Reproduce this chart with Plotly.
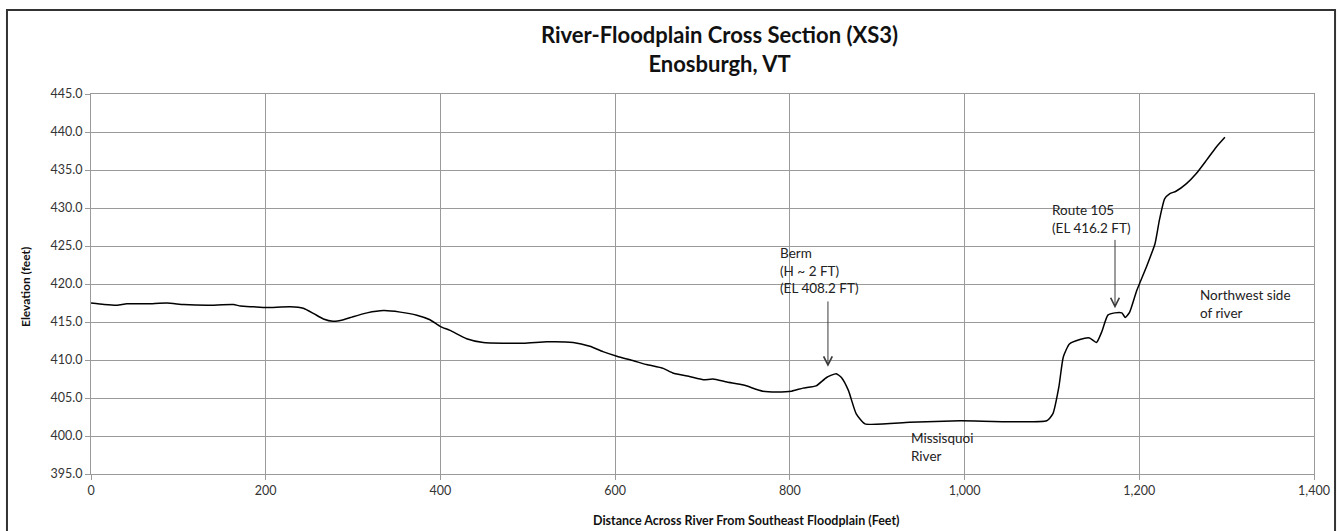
import plotly.graph_objects as go

# Surveyed ground profile across the Missisquoi River floodplain (XS3)
distance_ft = [0, 15, 30, 41, 65, 87, 106, 133, 163, 171, 186, 201, 228, 243, 255,
               266, 277, 289, 300, 316, 335, 354, 373, 388, 400, 411, 430, 449, 495,
               522, 552, 571, 586, 602, 621, 636, 655, 666, 686, 701, 712, 728, 747,
               769, 785, 802, 815, 830, 842, 853, 859, 867, 876, 886, 937, 995, 1094,
               1101, 1108, 1113, 1120, 1132, 1143, 1151, 1157, 1164, 1172, 1180, 1184,
               1189, 1197, 1208, 1218, 1223, 1229, 1235, 1242, 1254, 1265, 1277, 1288,
               1298]
elevation_ft = [417.5, 417.3, 417.2, 417.4, 417.4, 417.5, 417.3, 417.2, 417.3, 417.1,
                417.0, 416.9, 417.0, 416.8, 416.1, 415.4, 415.1, 415.3, 415.7, 416.2,
                416.5, 416.3, 415.9, 415.3, 414.4, 413.9, 412.8, 412.3, 412.2, 412.4,
                412.3, 411.8, 411.1, 410.5, 409.9, 409.4, 408.9, 408.3, 407.8, 407.4,
                407.5, 407.1, 406.7, 405.9, 405.8, 405.9, 406.3, 406.6, 407.7, 408.2,
                407.7, 406.0, 402.9, 401.6, 401.8, 402.0, 402.0, 402.9, 406.5, 410.4,
                412.1, 412.7, 412.9, 412.3, 413.7, 415.9, 416.2, 416.2, 415.6, 416.3,
                419.1, 422.2, 425.3, 428.4, 431.2, 431.9, 432.2, 433.2, 434.5, 436.3,
                438.0, 439.3]

# Callout labels: (text, x, y of text block middle)
labels = [
    ("Berm<br>(H ~ 2 FT)<br>(EL 408.2 FT)", 786, 421.8),
    ("Route 105<br>(EL 416.2 FT)", 1098, 428.5),
    ("Northwest side<br>of river", 1267, 417.4),
    ("Missisquoi<br>River", 936, 398.6),
]
# Arrows: (x, tail elevation, tip elevation)
berm_x, berm_el = 843.6, 408.2
route_x, route_el = 1172.2, 416.2
arrows = [
    (berm_x, 417.9, berm_el + 0.9),
    (route_x, 426.0, route_el + 0.6),
]

FONT = "Lato, Calibri, Arial, sans-serif"
GRID = "#9a9a9a"

fig = go.Figure()
fig.add_trace(go.Scatter(
    x=distance_ft, y=elevation_ft, mode="lines",
    line=dict(color="black", width=1.5, shape="spline", smoothing=0.5),
    showlegend=False, hoverinfo="x+y",
))

annotations = []
for text, x, y in labels:
    annotations.append(dict(
        x=x, y=y, xref="x", yref="y", text=text, showarrow=False,
        xanchor="left", yanchor="middle", align="left",
        font=dict(family=FONT, size=13.5, color="#222"),
    ))
for x, y_tail, y_tip in arrows:
    annotations.append(dict(
        x=x, y=y_tip, ax=x, ay=y_tail, xref="x", yref="y", axref="x", ayref="y",
        text="", showarrow=True, arrowhead=5, arrowsize=1.7, arrowwidth=1,
        arrowcolor="#3a3a3a",
    ))

# Chart title (two lines)
annotations.append(dict(
    x=0.5135, y=(474 - 49.5) / 380, xref="paper", yref="paper", showarrow=False,
    text="River-Floodplain Cross Section (XS3)<br>Enosburgh, VT",
    xanchor="center", yanchor="middle", align="center",
    font=dict(family=FONT, size=22, color="#111", weight="bold"),
))
# Axis titles
annotations.append(dict(
    x=0.536, y=-0.123, xref="paper", yref="paper", showarrow=False,
    text="Distance Across River From Southeast Floodplain (Feet)",
    xanchor="center", yanchor="middle",
    font=dict(family=FONT, size=12.5, color="#111", weight="bold"),
))
annotations.append(dict(
    x=-0.054, y=0.492, xref="paper", yref="paper", showarrow=False,
    text="Elevation (feet)", textangle=-90,
    xanchor="center", yanchor="middle",
    font=dict(family=FONT, size=12, color="#111", weight="bold"),
))

fig.update_layout(
    width=1340, height=531,
    margin=dict(l=91, r=26, t=94, b=57),
    paper_bgcolor="white", plot_bgcolor="white",
    annotations=annotations,
    shapes=[dict(
        type="rect", xref="paper", yref="paper",
        x0=-0.0687, x1=1.0172, y0=-0.2, y1=1.221,
        line=dict(color="#333", width=2), fillcolor="rgba(0,0,0,0)",
        layer="above",
    )],
)

fig.update_xaxes(
    range=[0, 1400], tick0=0, dtick=200, tickformat=",d",
    showgrid=True, gridcolor=GRID, gridwidth=1,
    showline=True, linecolor=GRID, linewidth=1, mirror=True,
    ticks="outside", ticklen=5, tickcolor=GRID,
    tickfont=dict(family=FONT, size=12.5, color="#333"),
    zeroline=False, automargin=False,
)
fig.update_yaxes(
    range=[395, 445], tick0=395, dtick=5, tickformat=".1f",
    showgrid=True, gridcolor=GRID, gridwidth=1,
    showline=True, linecolor=GRID, linewidth=1, mirror=True,
    ticks="outside", ticklen=5, tickcolor=GRID,
    tickfont=dict(family=FONT, size=12.5, color="#333"),
    zeroline=False, automargin=False,
)

fig.write_html("out.html", config={"displayModeBar": False})
